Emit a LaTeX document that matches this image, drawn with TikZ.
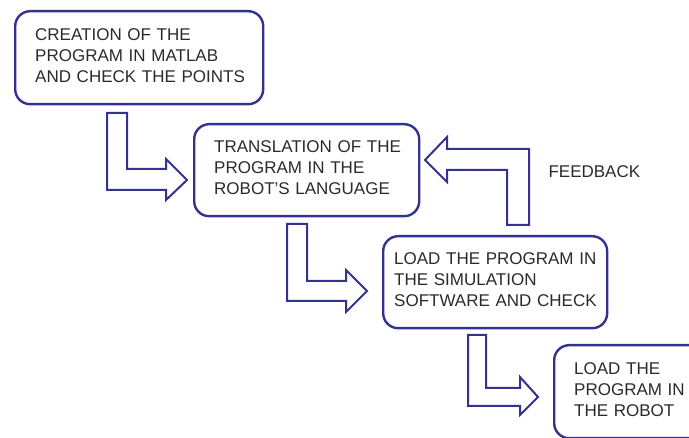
\documentclass[tikz,border=0pt]{standalone}
\usepackage{fontspec}
\setmainfont{Liberation Sans}
\definecolor{frame}{HTML}{33338F}
\definecolor{txt}{HTML}{2A2A2A}
\hbadness=10000 \hfuzz=50pt
\newcommand{\liftup}{\par\vspace*{5pt}}
\begin{document}
\begin{tikzpicture}[x=1pt,y=-1pt,
  stepbox/.style={draw=frame,line width=2.4pt,rounded corners=15pt,anchor=north west,
    inner xsep=20pt,inner ysep=0pt,align=left,text=txt,
    font=\fontsize{17}{21}\selectfont},
  bentarrow/.style={draw=frame,line width=2pt,line join=miter,fill=white}]
\useasboundingbox (0,0) rectangle (689,438);
\node[stepbox,text width=208pt,minimum height=93pt] (b1) at (14,10)
  {\mbox{CREATION OF THE}\\\mbox{PROGRAM IN MATLAB}\\\mbox{AND CHECK THE POINTS}\liftup};
\node[stepbox,text width=185pt,minimum height=92pt] (b2) at (193,123)
  {\mbox{TRANSLATION OF THE}\\\mbox{PROGRAM IN THE}\\\mbox{ROBOT'S LANGUAGE}\liftup};
\node[stepbox,inner xsep=11pt,text width=202pt,minimum height=92pt] (b3) at (382,235)
  {\mbox{LOAD THE PROGRAM IN}\\\mbox{THE SIMULATION}\\\mbox{SOFTWARE AND CHECK}\liftup};
\node[stepbox,text width=185pt,minimum height=93pt] (b4) at (553,344)
  {\mbox{LOAD THE}\\\mbox{PROGRAM IN}\\\mbox{THE ROBOT}\liftup};
\node[anchor=west,text=txt,font=\fontsize{17}{21}\selectfont] (fb) at (545,172) {FEEDBACK};
% arrow 1
\draw[bentarrow] (107,113) -- (127,113) -- (127,169) -- (166,169) -- (166,159) -- (187,180)
  -- (166,200) -- (166,190) -- (107,190) -- cycle;
% arrow 2
\draw[bentarrow] (287,224) -- (307,224) -- (307,281) -- (346,281) -- (346,270) -- (367,291)
  -- (346,312) -- (346,301) -- (287,301) -- cycle;
% arrow 3
\draw[bentarrow] (468,335) -- (486,335) -- (486,388) -- (520,388) -- (520,377) -- (538,397)
  -- (520,415) -- (520,406) -- (468,406) -- cycle;
% feedback arrow
\draw[bentarrow] (507,225) -- (529,225) -- (529,149) -- (447,149) -- (447,137) -- (425,160)
  -- (447,182) -- (447,170) -- (507,170) -- cycle;
\end{tikzpicture}
\end{document}
